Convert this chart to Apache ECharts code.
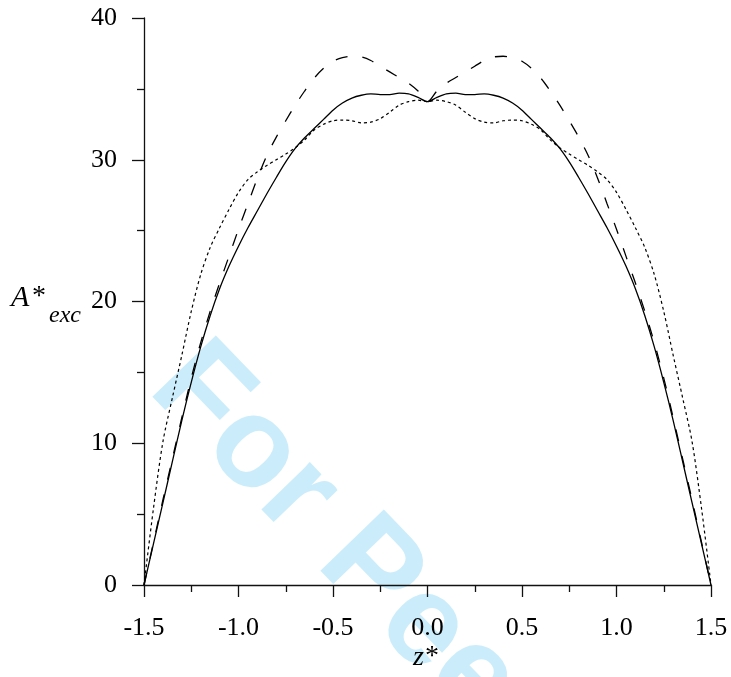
<!DOCTYPE html>
<html>
<head>
<meta charset="utf-8">
<script src="https://cdn.jsdelivr.net/npm/echarts@6/dist/echarts.min.js"></script>
<style>html,body{margin:0;padding:0;background:#fff;}#c{width:731px;height:677px;}</style>
</head>
<body>
<div id="c"></div>
<script>
// Tick labels
const xTicks = [-1.5, -1.0, -0.5, 0.0, 0.5, 1.0, 1.5];
const yTicks = [0, 10, 20, 30, 40];

// Common z grid for all three curves
const zGrid = [-1.5,-1.45,-1.4,-1.35,-1.3,-1.25,-1.2,-1.15,-1.1,-1.05,-1.0,-0.95,-0.9,-0.85,-0.8,-0.75,-0.7,-0.65,-0.6,-0.55,-0.5,-0.45,-0.4,-0.35,-0.3,-0.25,-0.2,-0.15,-0.1,-0.05,0,
  0.05,0.1,0.15,0.2,0.25,0.3,0.35,0.4,0.45,0.5,0.55,0.6,0.65,0.7,0.75,0.8,0.85,0.9,0.95,1.0,1.05,1.1,1.15,1.2,1.25,1.3,1.35,1.4,1.45,1.5];

// Solid curve
const solidA = [0,2.9,5.8,8.7,11.6,14.3,16.8,19.0,20.9,22.5,23.9,25.2,26.4,27.6,28.75,29.85,30.8,31.55,32.2,32.85,33.5,34.0,34.35,34.55,34.65,34.6,34.6,34.7,34.65,34.4,34.1,
  34.4,34.65,34.7,34.6,34.6,34.65,34.55,34.35,34.0,33.5,32.85,32.2,31.55,30.8,29.85,28.75,27.6,26.4,25.2,23.9,22.5,20.9,19.0,16.8,14.3,11.6,8.7,5.8,2.9,0];

// Long-dashed curve
const dashA = [0,3.0,6.0,8.9,11.8,14.6,17.1,19.3,21.3,23.2,25.1,26.9,28.7,30.3,31.6,32.75,33.85,34.85,35.75,36.45,36.95,37.2,37.3,37.25,37.0,36.6,36.2,35.8,35.4,34.85,34.1,
  34.85,35.4,35.8,36.2,36.6,37.0,37.25,37.3,37.2,36.95,36.45,35.75,34.85,33.85,32.75,31.6,30.3,28.7,26.9,25.1,23.2,21.3,19.3,17.1,14.6,11.8,8.9,6.0,3.0,0];

// Short-dotted curve
const dotA = [0,5.4,10.1,13.2,16.2,19.3,21.9,23.8,25.2,26.5,27.7,28.6,29.15,29.6,30.0,30.4,30.85,31.4,32.1,32.5,32.75,32.8,32.75,32.6,32.65,32.9,33.35,33.85,34.1,34.2,34.1,
  34.2,34.1,33.85,33.35,32.9,32.65,32.6,32.75,32.8,32.75,32.5,32.1,31.4,30.85,30.4,30.0,29.6,29.15,28.6,27.7,26.5,25.2,23.8,21.9,19.3,16.2,13.2,10.1,5.4,0];

function pairs(z, a) { return z.map((v, i) => [v, a[i]]); }

const serif = '"Liberation Serif", "Times New Roman", serif';
const chart = echarts.init(document.getElementById('c'), null, {renderer: 'canvas'});
chart.setOption({
  animation: false,
  backgroundColor: '#fff',
  grid: {left: 144, right: 20, top: 18, bottom: 92, containLabel: false},
  xAxis: {
    type: 'value', min: xTicks[0], max: xTicks[xTicks.length - 1], interval: 0.5,
    axisLine: {show: true, onZero: false, lineStyle: {color: '#111', width: 1.3}},
    axisTick: {show: true, inside: false, length: 12, lineStyle: {color: '#111', width: 1.3}},
    minorTick: {show: true, splitNumber: 2, length: 7, lineStyle: {color: '#111', width: 1.3}},
    splitLine: {show: false},
    axisLabel: {show: true, margin: 30, fontFamily: serif, fontSize: 26, color: '#000',
      formatter: v => v.toFixed(1)}
  },
  yAxis: {
    type: 'value', min: yTicks[0], max: yTicks[yTicks.length - 1], interval: 10,
    axisLine: {show: true, onZero: false, lineStyle: {color: '#111', width: 1.3}},
    axisTick: {show: true, inside: false, length: 12, lineStyle: {color: '#111', width: 1.3}},
    minorTick: {show: true, splitNumber: 2, length: 7, lineStyle: {color: '#111', width: 1.3}},
    splitLine: {show: false},
    axisLabel: {show: true, margin: 27, fontFamily: serif, fontSize: 26, color: '#000'}
  },
  graphic: [
    {type: 'text', z: -10, x: 172, y: 366, rotation: -46 * Math.PI / 180,
      style: {text: 'For Peer Review', fill: '#cbedfb', font: 'bold 128px "Liberation Sans", Arial, sans-serif',
        textAlign: 'left', textVerticalAlign: 'middle'}},
    {type: 'text', left: 11, top: 283,
      style: {text: 'A', fill: '#000', font: 'italic 30px ' + serif}},
    {type: 'text', left: 32, top: 283,
      style: {text: '*', fill: '#000', font: '28px ' + serif}},
    {type: 'text', left: 49, top: 304,
      style: {text: 'exc', fill: '#000', font: 'italic 24px ' + serif}},
    {type: 'text', left: 413, top: 644,
      style: {text: 'z', fill: '#000', font: 'italic 28px ' + serif}},
    {type: 'text', left: 425, top: 643,
      style: {text: '*', fill: '#000', font: '28px ' + serif}}
  ],
  series: [
    {type: 'line', data: pairs(zGrid, solidA), showSymbol: false, smooth: 0.3, z: 5,
      lineStyle: {color: '#000', width: 1.3, type: 'solid'}},
    {type: 'line', data: pairs(zGrid, dashA), showSymbol: false, smooth: 0.3, z: 5,
      lineStyle: {color: '#000', width: 1.3, type: [12, 15]}},
    {type: 'line', data: pairs(zGrid, dotA), showSymbol: false, smooth: 0.3, z: 5,
      lineStyle: {color: '#000', width: 1.2, type: [3, 3]}}
  ]
});
</script>
</body>
</html>
